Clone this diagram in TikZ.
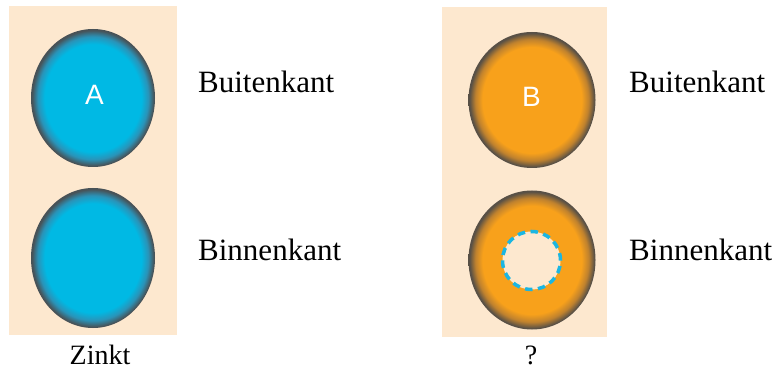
\documentclass[tikz,border=0pt]{standalone}
\usepackage{fontspec}
\setmainfont{Liberation Serif}
\newfontfamily\letterfont{Liberation Sans}
\usetikzlibrary{shapes.geometric}
\definecolor{peach}{HTML}{FDE8CF}
\definecolor{cyanc}{HTML}{00B9E4}
\definecolor{cyanmid}{HTML}{2A93B8}
\definecolor{cyandark}{HTML}{485257}
\definecolor{orangec}{HTML}{F8A11B}
\definecolor{orangemid}{HTML}{C0822E}
\definecolor{orangedark}{HTML}{585046}
\definecolor{dashcyan}{HTML}{1BB6E2}
\pgfdeclareradialshading{cyanball}{\pgfpoint{0bp}{0bp}}{color(0bp)=(cyanc); color(19.5bp)=(cyanc); color(22.3bp)=(cyanmid); color(24.6bp)=(cyandark); color(50bp)=(cyandark)}
\pgfdeclareradialshading{orangeball}{\pgfpoint{0bp}{0bp}}{color(0bp)=(orangec); color(19.5bp)=(orangec); color(22.3bp)=(orangemid); color(24.6bp)=(orangedark); color(50bp)=(orangedark)}
\tikzset{
  panel/.style={fill=peach, draw=none},
  ball/.style={ellipse, inner sep=0pt, draw=none},
  cyanb/.style={ball, shading=cyanball},
  orangeb/.style={ball, shading=orangeball},
  letter/.style={inner sep=0pt, text=white, font=\letterfont\fontsize{28}{30}\selectfont},
  label/.style={inner sep=0pt, anchor=base west, font=\fontsize{31}{36}\selectfont},
  caption/.style={inner sep=0pt, anchor=base, font=\fontsize{28}{32}\selectfont},
  hole/.style={circle, inner sep=0pt, minimum size=58pt, fill=peach, draw=dashcyan, line width=3.5pt, dash pattern=on 7.5pt off 5.5pt}
}
\begin{document}
\begin{tikzpicture}[x=1pt, y=-1pt]
\useasboundingbox (0,0) rectangle (781,371);
\fill[panel] (9,6) rectangle (177,335);
\fill[panel] (442,7) rectangle (607,337);
\node[cyanb, minimum width=124pt, minimum height=138pt] (a1) at (93,98) {};
\node[cyanb, minimum width=124pt, minimum height=140pt] (a2) at (93,258) {};
\node[orangeb, minimum width=127pt, minimum height=136pt] (b1) at (532,100) {};
\node[orangeb, minimum width=127pt, minimum height=139pt] (b2) at (532,260) {};
\node[hole] (h) at (531.5,260.5) {};
\node[letter] (la) at (94.5,95) {A};
\node[letter] (lb) at (531.5,97) {B};
\node[label] (t1) at (198,93) {Buitenkant};
\node[label] (t2) at (198,260) {Binnenkant};
\node[label] (t3) at (629,93) {Buitenkant};
\node[label] (t4) at (629,260) {Binnenkant};
\node[caption] (c1) at (100,364) {Zinkt};
\node[caption] (c2) at (531,364) {?};
\end{tikzpicture}
\end{document}
